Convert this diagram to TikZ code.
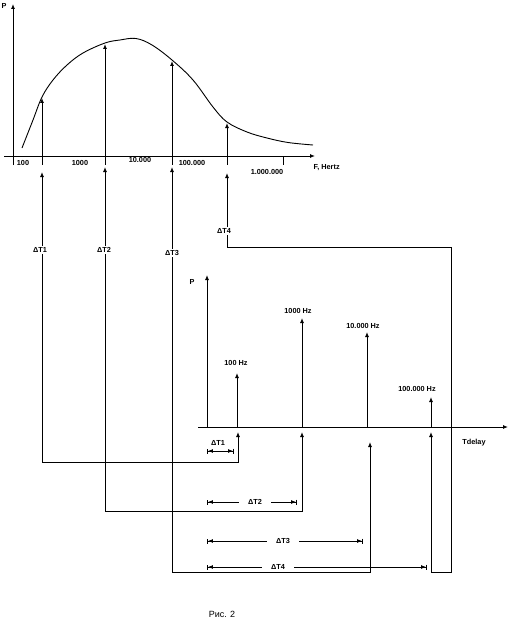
\documentclass[tikz,border=0pt]{standalone}
\usepackage{fontspec}
\setmainfont{Liberation Sans}
\usetikzlibrary{arrows.meta}
\begin{document}
\begin{tikzpicture}[x=1pt,y=-1pt,
  ln/.style={line width=0.9pt},
  arr/.style={line width=0.9pt,-{Latex[length=5pt,width=4pt]}},
  darr/.style={line width=0.9pt,{Latex[length=5pt,width=4pt]}-{Latex[length=5pt,width=4pt]}},
  dim/.style={line width=0.9pt,{Bar[width=5pt,line width=0.9pt]Latex[length=5pt,width=4pt]}-{Latex[length=5pt,width=4pt]Bar[width=5pt,line width=0.9pt]}},
  lbl/.style={font=\bfseries\fontsize{7.3}{8}\selectfont,inner sep=0.5pt},
  onl/.style={lbl,fill=white,inner ysep=1.5pt},
  gap/.style={lbl,fill=white,inner xsep=9pt,inner ysep=2pt}]
\useasboundingbox (0,0) rectangle (511,623);

% ---------- top graph ----------
\coordinate (Ptop) at (13,4);
\coordinate (Pbot) at (13,165);
\coordinate (Xl) at (4,156);
\coordinate (Xr) at (315,156);
\draw[arr] (Pbot) -- (Ptop);
\draw[arr] (Xl) -- (Xr);
\node[lbl] (Plab) at (4,6) {P};
\node[lbl,anchor=west] (Flab) at (313,168) {F, Hertz};

\foreach \n/\x in {a/42,b/105,c/172,d/227,e/283}{
  \coordinate (ax\n) at (\x,156);
  \coordinate (tk\n) at (\x,165);
  \draw[ln] (ax\n) -- (tk\n);
}
\node[lbl] (f1) at (23,163) {100};
\node[lbl] (f2) at (80,163) {1000};
\node[lbl] (f3) at (140,160) {10.000};
\node[lbl] (f4) at (192,163) {100.000};
\node[lbl] (f5) at (267,172) {1.000.000};

\draw[ln] plot[smooth,tension=0.6] coordinates {(22,148) (33,120) (42,97) (53,80) (67,65) (83,53) (105,43) (120,40) (136,38.5) (152,45) (172,60) (193,80) (213,107) (227,122) (247,132) (267,138) (288,142.5) (313,145)};

\coordinate (ca) at (42,98);
\coordinate (cb) at (105,44);
\coordinate (cc) at (172,61);
\coordinate (cd) at (227,123);
\foreach \n in {a,b,c,d}{ \draw[arr] (ax\n) -- (c\n); }

% ---------- lower graph ----------
\coordinate (Q0) at (207,427);
\coordinate (Qtop) at (207,275);
\coordinate (Tl) at (198,427);
\coordinate (Tr) at (508,427);
\draw[arr] (Q0) -- (Qtop);
\draw[arr] (Tl) -- (Tr);
\node[lbl] (P2lab) at (192,282) {P};
\node[lbl] (Tdlab) at (474,443) {Tdelay};

\coordinate (sa0) at (237,427); \coordinate (sa) at (237,373);
\coordinate (sb0) at (302,427); \coordinate (sb) at (302,318);
\coordinate (sc0) at (367,427); \coordinate (sc) at (367,332);
\coordinate (sd0) at (431,427); \coordinate (sd) at (431,397);
\foreach \n in {a,b,c,d}{ \draw[arr] (s\n0) -- (s\n); }
\node[lbl] (h1) at (236,363) {100 Hz};
\node[lbl] (h2) at (298,311) {1000 Hz};
\node[lbl] (h3) at (363,326) {10.000 Hz};
\node[lbl] (h4) at (417,389) {100.000 Hz};

% ---------- connecting loops ----------
\coordinate (ua) at (42,172);  \coordinate (va) at (238,432);
\coordinate (ub) at (105,167); \coordinate (vb) at (302,432);
\coordinate (uc) at (172,167); \coordinate (vc) at (370,442);
\coordinate (ud) at (227,173); \coordinate (vd) at (431,432);
\draw[darr] (ua) -- (42,462) -- (238,462) -- (va);
\draw[darr] (ub) -- (105,511) -- (302,511) -- (vb);
\draw[darr] (uc) -- (172,572) -- (370,572) -- (vc);
\draw[darr] (ud) -- (227,247) -- (451,247) -- (451,572) -- (431,572) -- (vd);

\node[onl] (d1) at (40,250) {ΔT1};
\node[onl] (d2) at (104,250) {ΔT2};
\node[onl] (d3) at (172,253) {ΔT3};
\node[onl] (d4) at (224,231) {ΔT4};

% ---------- dimension lines ----------
\coordinate (m1a) at (207,451); \coordinate (m1b) at (234,451);
\coordinate (m2a) at (207,502); \coordinate (m2b) at (297,502);
\coordinate (m3a) at (207,541); \coordinate (m3b) at (363,541);
\coordinate (m4a) at (207,567); \coordinate (m4b) at (427,567);
\draw[dim] (m1a) -- (m1b);
\draw[dim] (m2a) -- (m2b);
\draw[dim] (m3a) -- (m3b);
\draw[dim] (m4a) -- (m4b);
\node[lbl] (e1) at (218,443) {ΔT1};
\node[gap] (e2) at (255,502) {ΔT2};
\node[gap] (e3) at (283,541) {ΔT3};
\node[gap] (e4) at (278,567) {ΔT4};

\node[font=\fontsize{9}{10}\selectfont] (cap) at (222,614) {Рис. 2};
\end{tikzpicture}
\end{document}
